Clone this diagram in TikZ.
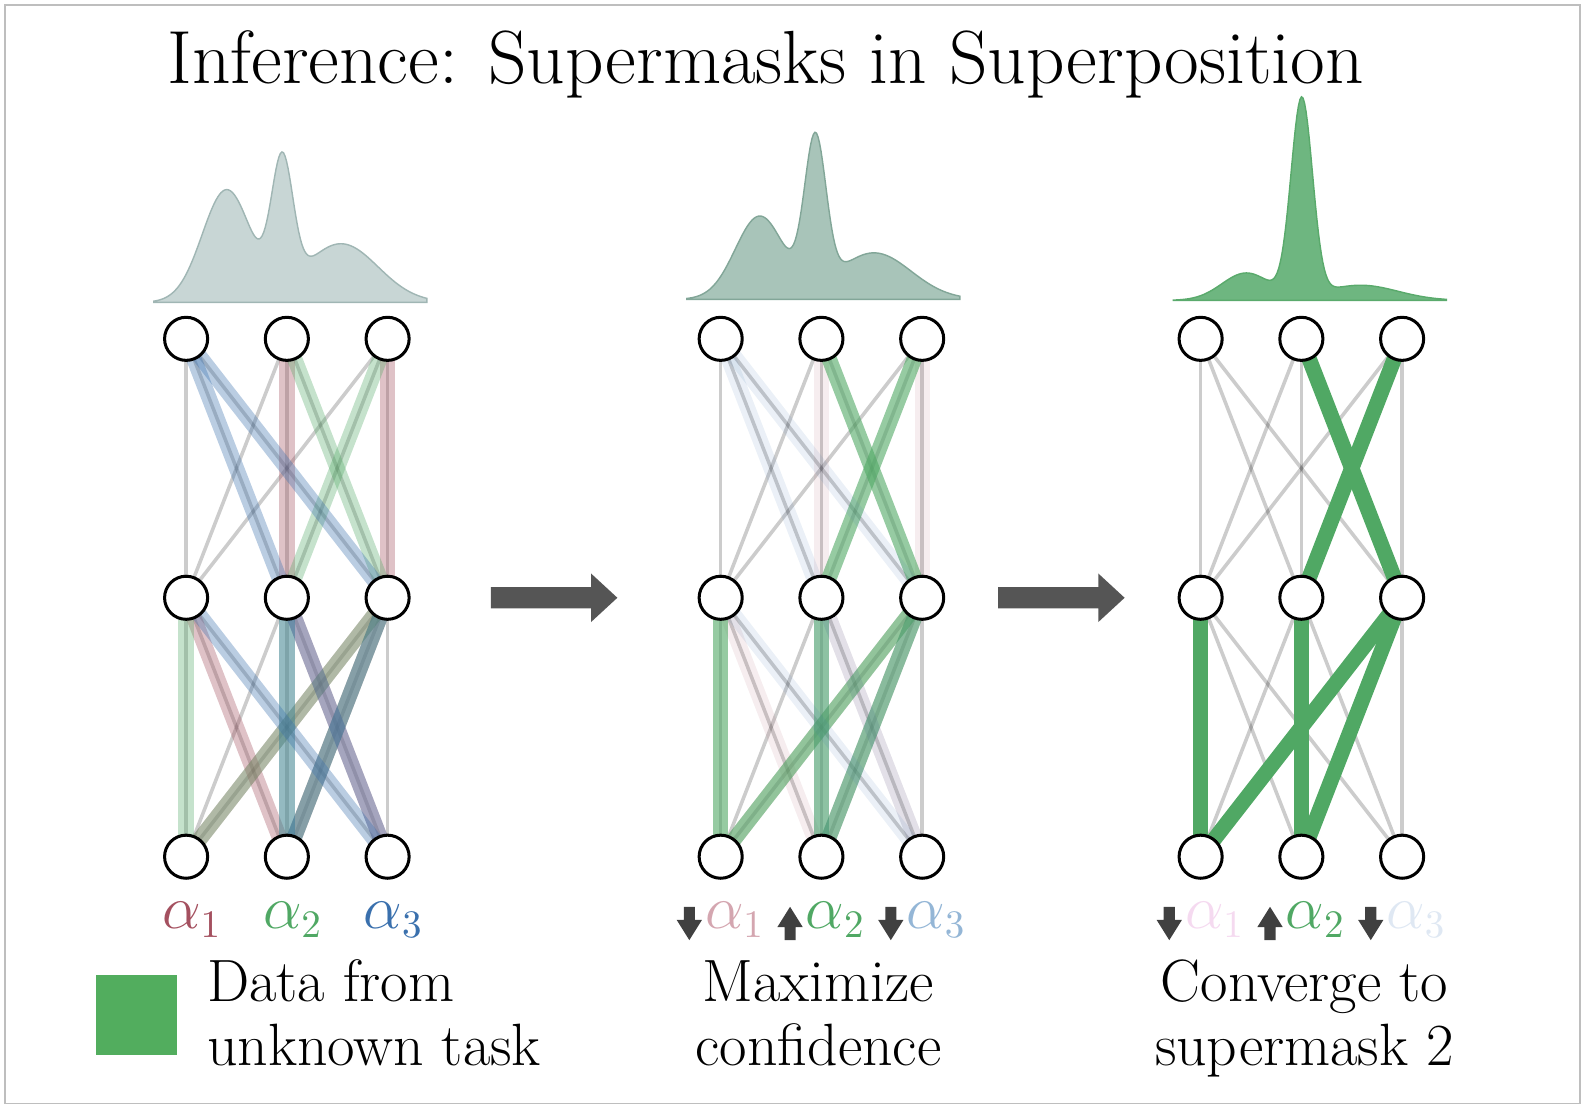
\documentclass[tikz,border=0pt]{standalone}
\usetikzlibrary{calc,backgrounds}

\definecolor{maskred}{RGB}{164,80,95}
\definecolor{maskgreen}{RGB}{80,168,100}
\definecolor{maskblue}{RGB}{58,112,173}
\definecolor{fadered}{RGB}{212,166,176}
\definecolor{fadeblue}{RGB}{148,182,214}
\definecolor{palered}{RGB}{245,218,240}
\definecolor{paleblue}{RGB}{223,232,243}
\definecolor{taskgreen}{RGB}{82,173,94}
\definecolor{arrowgray}{RGB}{85,85,85}
\definecolor{votegray}{RGB}{64,64,64}
\definecolor{framegray}{RGB}{190,190,190}
\definecolor{distAfill}{RGB}{200,214,213}
\definecolor{distAline}{RGB}{160,182,180}
\definecolor{distBfill}{RGB}{168,196,185}
\definecolor{distBline}{RGB}{130,166,152}
\definecolor{distCfill}{RGB}{110,182,128}
\definecolor{distCline}{RGB}{90,170,108}

\tikzset{
  pics/density/.style n args={4}{code={
    \filldraw[#1] (0,0) -- plot[domain=0:270,samples=180]
      (\x,{-#2*exp(-(((\x-72)/34)^2))-#3*exp(-(((\x-127)/15)^2))-#4*exp(-(((\x-185)/52)^2))})
      -- (270,0) -- cycle;}},
  pics/bigarrow/.style={code={
    \fill[arrowgray] (-62.5,-10.5) -- (36.5,-10.5) -- (36.5,-24) -- (62.5,0)
      -- (36.5,24) -- (36.5,10.5) -- (-62.5,10.5) -- cycle;}},
  pics/vote/.style={code={
    \fill[votegray] (-5.5,-16.5) -- (5.5,-16.5) -- (5.5,-3.5) -- (12.5,-3.5)
      -- (0,16.5) -- (-12.5,-3.5) -- (-5.5,-3.5) -- cycle;}}
}

\begin{document}
\begin{tikzpicture}[x=0.1mm, y=-0.1mm,
  neuron/.style={circle, draw, line width=0.85pt, fill=white, minimum size=4.26mm, inner sep=0pt},
  weight/.style={line width=1pt, black, opacity=0.2},
  mask/.style={line width=4.3pt},
  distA/.style={fill=distAfill, draw=distAline, line width=0.4pt},
  distB/.style={fill=distBfill, draw=distBline, line width=0.4pt},
  distC/.style={fill=distCfill, draw=distCline, line width=0.4pt},
  caption/.style={font=\fontsize{16.8}{17.9}\selectfont, inner sep=0pt},
  coef/.style={font=\fontsize{16}{18}\selectfont, inner sep=0pt, anchor=base}]

  \useasboundingbox (0,0) rectangle (1568,1097);
  \draw[framegray, line width=0.5pt] (5,5) rectangle (1562,1091);

  \node[font=\fontsize{21.2}{25}\selectfont, anchor=base, inner sep=0pt] (title) at (757,83)
    {Inference: Supermasks in Superposition};

  % neurons: o = top, h = hidden, i = bottom
  \foreach \net/\x in {A/184, B/712.5, C/1187} {
    \foreach \k in {1,2,3} {
      \node[neuron] (\net-o\k) at ({\x+99.6*(\k-1)},335) {};
      \node[neuron] (\net-h\k) at ({\x+99.6*(\k-1)},591) {};
      \node[neuron] (\net-i\k) at ({\x+99.6*(\k-1)},847) {};
    }
  }

  % weights and supermasks
  \begin{scope}[on background layer]
    \foreach \net in {A,B,C}
      \foreach \a in {1,2,3}
        \foreach \b in {1,2,3} {
          \draw[weight] (\net-o\a.center) -- (\net-h\b.center);
          \draw[weight] (\net-h\a.center) -- (\net-i\b.center);
        }
    \foreach \net/\ra/\ga/\ba in {A/0.35/0.33/0.35, B/0.1/0.6/0.1, C/0/1/0} {
      \foreach \s/\t in {o2/h2, o3/h3, h1/i2, h2/i3, h3/i1, h3/i2}
        \draw[mask, maskred, opacity=\ra] (\net-\s.center) -- (\net-\t.center);
      \foreach \s/\t in {o2/h3, o3/h2, h1/i1, h2/i2, h3/i1, h3/i2}
        \draw[mask, maskgreen, opacity=\ga] (\net-\s.center) -- (\net-\t.center);
      \foreach \s/\t in {o1/h2, o1/h3, h1/i3, h2/i2, h2/i3, h3/i2}
        \draw[mask, maskblue, opacity=\ba] (\net-\s.center) -- (\net-\t.center);
    }
  \end{scope}

  % output distributions
  \pic at (152,299) {density={distA}{111}{124}{58}};
  \pic at (679,296) {density={distB}{82}{146}{46}};
  \pic at (1160,297) {density={distC}{27}{195}{15}};

  \pic at ($(A-h3)!0.5!(B-h1)$) {bigarrow};
  \pic at ($(B-h3)!0.5!(C-h1)$) {bigarrow};

  % coefficients
  \foreach \k/\c in {1/maskred, 2/maskgreen, 3/maskblue}
    \node[coef, text=\c] (A-a\k) at ($(A-i\k)+(6,71)$) {$\alpha_\k$};
  \foreach \net/\ca/\cc in {B/fadered/fadeblue, C/palered/paleblue} {
    \pic at ($(\net-i1)+(-31,66)$) {vote};
    \pic[rotate=180] at ($(\net-i2)+(-31,66)$) {vote};
    \pic at ($(\net-i3)+(-31,66)$) {vote};
    \node[coef, anchor=base west, text=\ca] (\net-a1) at ($(\net-i1)+(-16,71)$) {$\alpha_1$};
    \node[coef, anchor=base west, text=maskgreen] (\net-a2) at ($(\net-i2)+(-16,71)$) {$\alpha_2$};
    \node[coef, anchor=base west, text=\cc] (\net-a3) at ($(\net-i3)+(-16,71)$) {$\alpha_3$};
  }

  \node[caption, align=center, anchor=base] (B-text) at ($(B-i2)+(-3,206)$) {Maximize\\confidence};
  \node[caption, align=center, anchor=base] (C-text) at ($(C-i2)+(3,206)$) {Converge to\\supermask 2};

  \node[fill=taskgreen, minimum size=8mm, inner sep=0pt] (task) at (135,1003.5) {};
  \node[caption, align=left, anchor=base west] (task-text) at (204,1053) {Data from\\unknown task};
\end{tikzpicture}
\end{document}
